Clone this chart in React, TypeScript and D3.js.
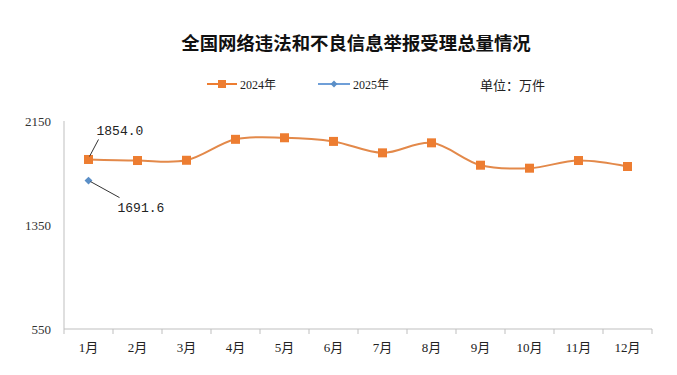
import React, { useEffect, useRef } from 'react';
import * as d3 from 'd3';

const months = ['1月', '2月', '3月', '4月', '5月', '6月', '7月', '8月', '9月', '10月', '11月', '12月'];
const values2024 = [1854.0, 1846, 1848, 2009, 2021, 1993, 1905, 1982, 1810, 1787, 1846, 1800];
const values2025 = [1691.6];
const yTicks = [550, 1350, 2150];

const width = 677;
const height = 375;
const margin = { top: 121, right: 25, bottom: 46, left: 64 };

const serif = '"Liberation Serif", "Noto Sans CJK SC", serif';
const cjk = '"Noto Sans CJK SC", sans-serif';
const mono = '"Liberation Mono", "Noto Sans CJK SC", monospace';

export default function App() {
  const ref = useRef<SVGSVGElement>(null);

  useEffect(() => {
    const svg = d3.select(ref.current);
    svg.selectAll('*').remove();

    const x = d3
      .scaleBand()
      .domain(months)
      .range([margin.left, width - margin.right]);

    const y = d3
      .scaleLinear()
      .domain([550, 2150])
      .range([height - margin.bottom, margin.top]);

    const cx = (i: number) => (x(months[i]) as number) + x.bandwidth() / 2;

    // title
    svg
      .append('text')
      .attr('x', 356)
      .attr('y', 50)
      .attr('text-anchor', 'middle')
      .style('font-family', cjk)
      .style('font-weight', 'bold')
      .style('font-size', '18.4px')
      .attr('fill', '#111')
      .text('全国网络违法和不良信息举报受理总量情况');

    // legend
    const lg = svg.append('g');
    lg.append('line')
      .attr('x1', 207).attr('x2', 237).attr('y1', 84).attr('y2', 84)
      .attr('stroke', '#ED7D31').attr('stroke-width', 2);
    lg.append('rect')
      .attr('x', 218).attr('y', 80).attr('width', 8).attr('height', 8)
      .attr('fill', '#ED7D31');
    lg.append('text')
      .attr('x', 240).attr('y', 89)
      .style('font-family', serif).style('font-size', '12px')
      .attr('fill', '#222')
      .text('2024年');
    lg.append('line')
      .attr('x1', 318).attr('x2', 350).attr('y1', 84).attr('y2', 84)
      .attr('stroke', '#6F9FD8').attr('stroke-width', 2);
    lg.append('path')
      .attr('d', d3.symbol(d3.symbolDiamond2, 30)())
      .attr('transform', 'translate(334,84)')
      .attr('fill', '#5B8FC7');
    lg.append('text')
      .attr('x', 353).attr('y', 89)
      .style('font-family', serif).style('font-size', '12px')
      .attr('fill', '#222')
      .text('2025年');
    lg.append('text')
      .attr('x', 480).attr('y', 90)
      .style('font-family', cjk).style('font-size', '13px')
      .attr('fill', '#222')
      .text('单位：万件');

    // y axis
    svg.append('line')
      .attr('x1', margin.left).attr('x2', margin.left)
      .attr('y1', y(2150)).attr('y2', y(550))
      .attr('stroke', '#BFBFBF');
    svg.selectAll('.ytick')
      .data(yTicks)
      .enter()
      .append('text')
      .attr('class', 'ytick')
      .attr('x', 51)
      .attr('y', (d) => y(d) + 5)
      .attr('text-anchor', 'end')
      .style('font-family', serif)
      .style('font-size', '13px')
      .attr('fill', '#333')
      .text((d) => d);

    // x axis
    const xAxis = svg
      .append('g')
      .attr('transform', `translate(0,${y(550)})`);
    xAxis.append('line')
      .attr('x1', margin.left).attr('x2', width - margin.right)
      .attr('stroke', '#BFBFBF');
    xAxis.selectAll('.xt')
      .data(d3.range(months.length + 1))
      .enter()
      .append('line')
      .attr('class', 'xt')
      .attr('x1', (i) => margin.left + i * x.bandwidth())
      .attr('x2', (i) => margin.left + i * x.bandwidth())
      .attr('y1', 0).attr('y2', 5)
      .attr('stroke', '#BFBFBF');
    xAxis.selectAll('.xl')
      .data(months)
      .enter()
      .append('text')
      .attr('class', 'xl')
      .attr('x', (_d, i) => cx(i))
      .attr('y', 23)
      .attr('text-anchor', 'middle')
      .style('font-family', serif)
      .style('font-size', '13px')
      .attr('fill', '#222')
      .text((d) => d);

    // 2024 line
    const line = d3
      .line<number>()
      .x((_d, i) => cx(i))
      .y((d) => y(d))
      .curve(d3.curveCatmullRom.alpha(0.5));
    svg.append('path')
      .datum(values2024)
      .attr('d', line)
      .attr('fill', 'none')
      .attr('stroke', '#E3894A')
      .attr('stroke-width', 2);
    svg.selectAll('.m24')
      .data(values2024)
      .enter()
      .append('rect')
      .attr('class', 'm24')
      .attr('x', (_d, i) => cx(i) - 4.5)
      .attr('y', (d) => y(d) - 4.5)
      .attr('width', 9)
      .attr('height', 9)
      .attr('fill', '#ED7D31');

    // 2025 point
    svg.selectAll('.m25')
      .data(values2025)
      .enter()
      .append('path')
      .attr('class', 'm25')
      .attr('d', d3.symbol(d3.symbolDiamond2, 40)())
      .attr('transform', (d, i) => `translate(${cx(i)},${y(d)})`)
      .attr('fill', '#5B8FC7');

    // data labels with leader lines
    const p1x = cx(0);
    const p1y = y(values2024[0]);
    svg.append('line')
      .attr('x1', p1x + 1).attr('y1', p1y - 3)
      .attr('x2', p1x + 10).attr('y2', p1y - 20)
      .attr('stroke', '#333');
    svg.append('text')
      .attr('x', p1x + 8).attr('y', p1y - 24)
      .style('font-family', mono).style('font-size', '13px')
      .attr('fill', '#222')
      .text(values2024[0].toFixed(1));

    const p2y = y(values2025[0]);
    svg.append('line')
      .attr('x1', p1x + 2).attr('y1', p2y + 1)
      .attr('x2', p1x + 31).attr('y2', p2y + 17)
      .attr('stroke', '#333');
    svg.append('text')
      .attr('x', p1x + 29).attr('y', p2y + 31)
      .style('font-family', mono).style('font-size', '13px')
      .attr('fill', '#222')
      .text(values2025[0].toFixed(1));
  }, []);

  return (
    <svg
      ref={ref}
      width={width}
      height={height}
      style={{ position: 'absolute', left: 0, top: 0, background: '#fff' }}
    />
  );
}
